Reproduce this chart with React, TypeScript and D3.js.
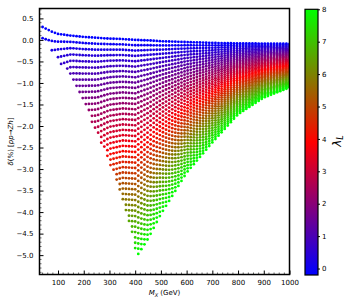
import * as d3 from "d3";
import React, { useEffect, useRef } from "react";

// Scan values. Per mass knot: δ at the top of the column (λ_L = -0.2),
// drop of δ per unit λ_L, and the largest λ_L the column reaches.
const massKnots = [40, 60, 80, 100, 150, 200, 250, 300, 350, 400, 450, 500, 600, 700, 800, 900, 1000];
const deltaTop = [0.3, 0.24, 0.18, 0.14, 0.1, 0.07, 0.05, 0.03, 0.02, 0.0, -0.01, -0.03, -0.05, -0.07, -0.08, -0.085, -0.09];
const deltaPerLambda = [1.3, 1.2, 1.05, 0.9, 0.73, 0.71, 0.695, 0.64, 0.62, 0.62, 0.562, 0.49, 0.37, 0.282, 0.201, 0.153, 0.124];
const lambdaReach = [0.08, 0.17, 0.3, 0.48, 1.07, 1.9, 3.0, 4.3, 5.8, 7.6, 9.6, 12, 17, 23, 30, 38, 47];

// scan grid
const massScan = d3.range(40, 1001, 12);
const lambdaScan = d3.range(0, 42).map((i) => Math.round((i * 0.2 - 0.2) * 10) / 10);

const xTicks = [100, 200, 300, 400, 500, 600, 700, 800, 900, 1000];
const yTicks = [-5.0, -4.5, -4.0, -3.5, -3.0, -2.5, -2.0, -1.5, -1.0, -0.5, 0.0, 0.5];
const cbTicks = [0, 1, 2, 3, 4, 5, 6, 7, 8];

export default function App() {
  const ref = useRef<SVGSVGElement>(null);

  useEffect(() => {
    const svg = d3.select(ref.current);
    svg.selectAll("*").remove();

    const width = 348;
    const height = 302;
    const margin = { top: 8.5, right: 58.5, bottom: 27.5, left: 39.5 };

    const x = d3.scaleLinear([28, 1000], [margin.left, width - margin.right]);
    const y = d3.scaleLinear([-5.45, 0.73], [height - margin.bottom, margin.top]);
    const color = d3
      .scaleLinear<string>()
      .domain([-0.2, 3.9, 8])
      .range(["#0000ff", "#ff0000", "#00ff00"])
      .interpolate(d3.interpolateRgb);

    const top = d3.scaleLinear(massKnots, deltaTop);
    const per = d3.scaleLinear(massKnots, deltaPerLambda);
    const reach = d3.scaleLinear(massKnots, lambdaReach);

    const pts: { m: number; l: number; d: number }[] = [];
    massScan.forEach((m) => {
      lambdaScan.forEach((l) => {
        if (l > reach(m) + 1e-9) return;
        pts.push({ m, l, d: top(m) - (l + 0.2) * per(m) });
      });
    });

    const font = "DejaVu Sans, sans-serif";

    svg
      .append("defs")
      .append("clipPath")
      .attr("id", "plotclip")
      .append("rect")
      .attr("x", margin.left)
      .attr("y", margin.top)
      .attr("width", width - margin.left - margin.right)
      .attr("height", height - margin.top - margin.bottom);

    svg
      .append("g")
      .attr("clip-path", "url(#plotclip)")
      .selectAll("circle")
      .data(pts)
      .join("circle")
      .attr("cx", (d) => x(d.m))
      .attr("cy", (d) => y(d.d))
      .attr("r", 1.4)
      .attr("fill", (d) => color(d.l));

    // axes, ticks pointing inward
    const xAxis = svg
      .append("g")
      .attr("transform", `translate(0,${height - margin.bottom})`)
      .call(
        d3.axisBottom(x).tickValues(xTicks).tickFormat(d3.format("d")).tickSize(-4).tickPadding(6).tickSizeOuter(0)
      )
      .call((g) => g.select(".domain").remove())
      .style("font-family", font)
      .style("font-size", "7px");
    xAxis
      .selectAll(".minor")
      .data(d3.range(40, 1000, 20).filter((v) => v % 100 !== 0))
      .join("line")
      .attr("x1", (v) => x(v))
      .attr("x2", (v) => x(v))
      .attr("y1", 0)
      .attr("y2", -2)
      .attr("stroke", "black")
      .attr("stroke-width", 0.6);

    const yAxis = svg
      .append("g")
      .attr("transform", `translate(${margin.left},0)`)
      .call(d3.axisLeft(y).tickValues(yTicks).tickFormat(d3.format(".1f")).tickSize(-4).tickPadding(6).tickSizeOuter(0))
      .call((g) => g.select(".domain").remove())
      .style("font-family", font)
      .style("font-size", "7px");
    yAxis
      .selectAll(".minor")
      .data(d3.range(-54, 8, 1).map((v) => v / 10).filter((v) => Math.abs(v * 2 - Math.round(v * 2)) > 1e-6))
      .join("line")
      .attr("y1", (v) => y(v))
      .attr("y2", (v) => y(v))
      .attr("x1", 0)
      .attr("x2", 2)
      .attr("stroke", "black")
      .attr("stroke-width", 0.6);

    svg
      .append("rect")
      .attr("x", margin.left)
      .attr("y", margin.top)
      .attr("width", width - margin.left - margin.right)
      .attr("height", height - margin.top - margin.bottom)
      .attr("fill", "none")
      .attr("stroke", "black")
      .attr("stroke-width", 1.5);

    svg
      .append("text")
      .attr("x", (margin.left + width - margin.right) / 2)
      .attr("y", 295)
      .attr("text-anchor", "middle")
      .attr("font-family", font)
      .attr("font-size", 7)
      .call((t) => {
        t.append("tspan").attr("font-style", "italic").text("M");
        t.append("tspan").attr("font-style", "italic").attr("font-size", 5).attr("dy", 1.5).text("X");
        t.append("tspan").attr("dy", -1.5).text(" (GeV)");
      });

    svg
      .append("text")
      .attr("transform", `translate(13,${(margin.top + height - margin.bottom) / 2}) rotate(-90)`)
      .attr("text-anchor", "middle")
      .attr("font-family", font)
      .attr("font-size", 7)
      .call((t) => {
        t.append("tspan").attr("font-style", "italic").text("δ");
        t.append("tspan").text("(%) [");
        t.append("tspan").attr("font-style", "italic").text("pp");
        t.append("tspan").text("→");
        t.append("tspan").attr("font-style", "italic").text("Zh");
        t.append("tspan").text("]");
      });

    // colorbar
    const cb = { x: 305, w: 13, top: 9.3, bottom: 275 };
    const cy = d3.scaleLinear([-0.2, 8], [cb.bottom, cb.top]);
    const grad = svg
      .select("defs")
      .append("linearGradient")
      .attr("id", "cbgrad")
      .attr("x1", 0)
      .attr("y1", 1)
      .attr("x2", 0)
      .attr("y2", 0);
    grad
      .selectAll("stop")
      .data([-0.2, 3.9, 8])
      .join("stop")
      .attr("offset", (v) => (v + 0.2) / 8.2)
      .attr("stop-color", (v) => color(v));
    svg
      .append("rect")
      .attr("x", cb.x)
      .attr("y", cb.top)
      .attr("width", cb.w)
      .attr("height", cb.bottom - cb.top)
      .attr("fill", "url(#cbgrad)")
      .attr("stroke", "black")
      .attr("stroke-width", 1.2);
    svg
      .append("g")
      .attr("transform", `translate(${cb.x + cb.w},0)`)
      .call(d3.axisRight(cy).tickValues(cbTicks).tickFormat(d3.format("d")).tickSize(2).tickPadding(2).tickSizeOuter(0))
      .call((g) => g.select(".domain").remove())
      .style("font-family", font)
      .style("font-size", "7px");

    svg
      .append("text")
      .attr("transform", `translate(341,141) rotate(-90)`)
      .attr("text-anchor", "middle")
      .attr("font-family", font)
      .attr("font-size", 12)
      .call((t) => {
        t.append("tspan").attr("font-style", "italic").text("λ");
        t.append("tspan").attr("font-style", "italic").attr("font-size", 8).attr("dy", 2).text("L");
      });
  }, []);

  return (
    <svg
      ref={ref}
      width={348}
      height={302}
      style={{ position: "absolute", left: 0, top: 0, background: "white" }}
    />
  );
}
